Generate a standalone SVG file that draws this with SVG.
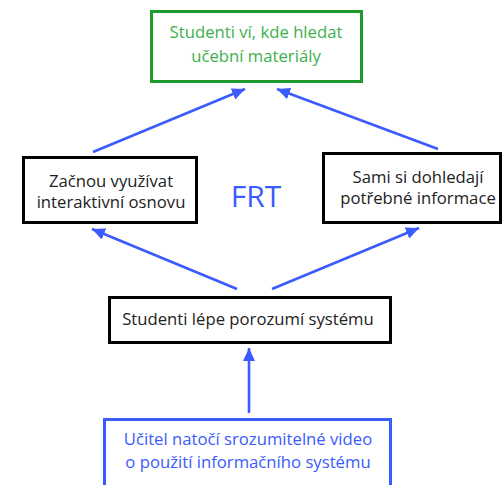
<svg xmlns="http://www.w3.org/2000/svg" width="503" height="485" viewBox="0 0 503 485">
<defs>
<style>
.box{fill:#fff;stroke-width:3}
.k{stroke:#000}
.g{stroke:#1f9a2e}
.b{stroke:#3b5bfd}
text{font-family:"Open Sans","Noto Sans",sans-serif;font-size:16.7px;text-anchor:middle}
.tk{fill:#222}
.tg{fill:#3db04b}
.tb{fill:#3b5bfd}
.conn line{stroke:#3b5bfd;stroke-width:2.6;marker-end:url(#ah)}
</style>
<marker id="ah" markerUnits="userSpaceOnUse" markerWidth="14" markerHeight="12" refX="13" refY="6" orient="auto">
<path d="M0,0 L13,6 L0,12 z" fill="#3b5bfd"/>
</marker>
</defs>
<rect width="503" height="485" fill="#fff"/>
<g class="conn" id="connectors">
<line x1="93" y1="152" x2="245" y2="89"/>
<line x1="438" y1="149" x2="277" y2="89"/>
<line x1="237" y1="289" x2="92" y2="229"/>
<line x1="272" y1="289" x2="419" y2="228"/>
<line x1="249" y1="413" x2="249" y2="348"/>
</g>
<g id="goal">
<rect class="box g" x="151.5" y="11.5" width="210" height="70"/>
<text class="tg" x="256" y="38">Studenti ví, kde hledat</text>
<text class="tg" x="256" y="62">učební materiály</text>
</g>
<g id="left">
<rect class="box k" x="23.5" y="157.5" width="173" height="65"/>
<text class="tk" x="111" y="187">Začnou využívat</text>
<text class="tk" x="111" y="208">interaktivní osnovu</text>
</g>
<g id="right">
<rect class="box k" x="323.5" y="153.5" width="177" height="69"/>
<text class="tk" x="418" y="183">Sami si dohledají</text>
<text class="tk" x="418" y="204">potřebné informace</text>
</g>
<g id="frt">
<text x="256" y="207" style="font-size:30px;fill:#3b5bfd">FRT</text>
</g>
<g id="middle">
<rect class="box k" x="109.5" y="297.5" width="281" height="45"/>
<text class="tk" x="248" y="325">Studenti lépe porozumí systému</text>
</g>
<g id="bottom">
<rect class="box b" x="104.5" y="419.5" width="286" height="80"/>
<text class="tb" x="248" y="445">Učitel natočí srozumitelné video</text>
<text class="tb" x="248" y="468">o použití informačního systému</text>
</g>
</svg>
